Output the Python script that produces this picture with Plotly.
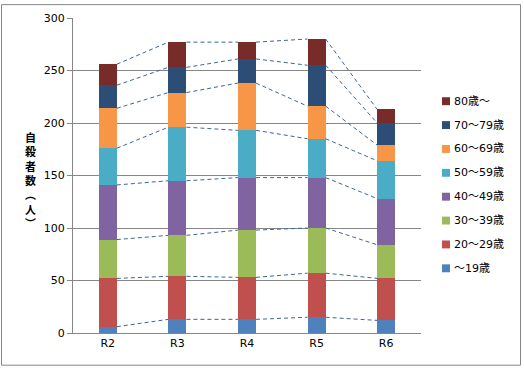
import plotly.graph_objects as go

categories = ["R2", "R3", "R4", "R5", "R6"]
series_names = ["～19歳", "20～29歳", "30～39歳", "40～49歳", "50～59歳", "60～69歳", "70～79歳", "80歳～"]
v_u19 = [6, 13, 13, 15, 12]
v_20s = [46, 41, 40, 42, 40]
v_30s = [37, 39, 45, 43, 32]
v_40s = [52, 52, 50, 48, 44]
v_50s = [35, 51, 45, 37, 36]
v_60s = [38, 33, 45, 31, 15]
v_70s = [22, 24, 23, 39, 21]
v_80p = [20, 24, 16, 25, 13]
colors = ["#4F81BD", "#C0504D", "#9BBB59", "#8064A2", "#4BACC6", "#F79646", "#2C4D75", "#772C2A"]
y_ticks = [0, 50, 100, 150, 200, 250, 300]

all_vals = [v_u19, v_20s, v_30s, v_40s, v_50s, v_60s, v_70s, v_80p]
W, H = 524, 369
L, R, T, B = 73, 103, 15, 36
bar_w = 0.26
xs = list(range(len(categories)))
FONT = "DejaVu Sans, Noto Sans CJK JP"
CJK = "Noto Sans CJK JP"

fig = go.Figure()
cum = [0] * len(categories)
tops = []
for name, vals, col in zip(series_names, all_vals, colors):
    fig.add_trace(go.Bar(x=xs, y=vals, name=name, marker=dict(color=col, line=dict(width=0)),
                         width=bar_w, showlegend=False))
    cum = [c + v for c, v in zip(cum, vals)]
    tops.append(cum)

for top in tops:
    lx, ly = [], []
    for i in range(len(xs) - 1):
        lx += [xs[i] + bar_w / 2, xs[i + 1] - bar_w / 2, None]
        ly += [top[i], top[i + 1], None]
    fig.add_trace(go.Scatter(x=lx, y=ly, mode="lines", showlegend=False, hoverinfo="skip",
                             line=dict(color="#3F6598", width=1, dash="4px,3px")))

pw, ph = W - L - R, H - T - B
def px(x): return (x - L) / pw
def py(y): return (H - B - y) / ph

# chart border
fig.add_shape(type="rect", xref="paper", yref="paper", x0=px(1.5), x1=px(520.5), y0=py(365.5), y1=py(1.5),
              line=dict(color="#868686", width=1), fillcolor="rgba(0,0,0,0)")

# legend (reversed order, top = last series)
for k, (name, col) in enumerate(zip(reversed(series_names), reversed(colors))):
    cy = 99 + 24.1 * k
    fig.add_shape(type="rect", xref="paper", yref="paper", x0=px(442), x1=px(450), y0=py(cy + 4), y1=py(cy - 4),
                  line=dict(width=0), fillcolor=col)
    fig.add_annotation(xref="paper", yref="paper", x=px(452), y=py(cy), xanchor="left", yanchor="middle",
                       text=name, showarrow=False, font=dict(size=11, color="#000000", family=FONT))

# vertical axis title
fig.add_annotation(xref="paper", yref="paper", x=px(30), y=py(179), xanchor="center", yanchor="middle",
                   text="<b>自<br>殺<br>者<br>数<br>︵<br>人<br>︶</b>", showarrow=False,
                   font=dict(size=11, color="#000000", family=CJK))

fig.update_layout(
    width=W, height=H, barmode="stack",
    margin=dict(l=L, r=R, t=T, b=B),
    paper_bgcolor="white", plot_bgcolor="white",
    font=dict(family=FONT, size=11, color="#000000"),
    showlegend=False,
    xaxis=dict(tickvals=xs, ticktext=categories, range=[-0.5, len(xs) - 0.5], showgrid=False,
               showline=True, linecolor="#868686", ticks="", zeroline=False, fixedrange=True,
               tickfont=dict(size=11)),
    yaxis=dict(range=[0, 300], tickvals=y_ticks, showgrid=True, gridcolor="#868686", gridwidth=1,
               showline=True, linecolor="#868686", ticks="outside", ticklen=5, tickcolor="#868686",
               zeroline=False, tickfont=dict(size=11)),
)
fig.write_html("out.html", config={"displayModeBar": False},
               post_script="document.body.style.margin='0';")
